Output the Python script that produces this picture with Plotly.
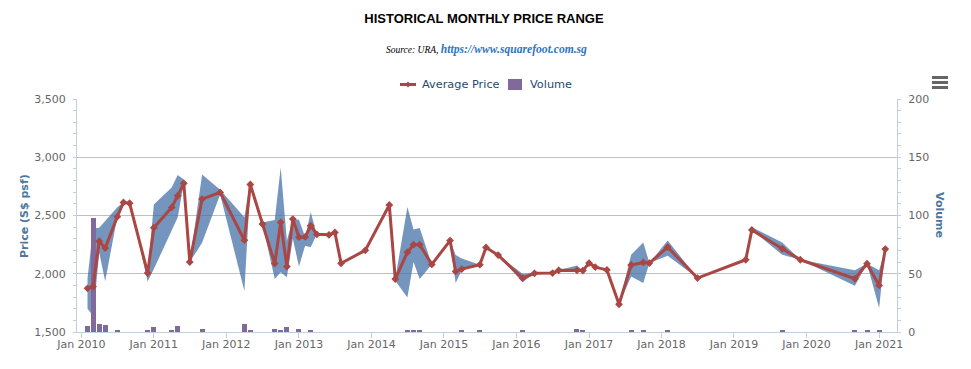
import plotly.graph_objects as go

# ---------------- data ----------------
months = ["2010-02", "2010-03", "2010-04", "2010-05", "2010-07", "2010-08", "2010-09", "2010-12",
          "2011-01", "2011-04", "2011-05", "2011-06", "2011-07", "2011-09", "2011-12",
          "2012-04", "2012-05", "2012-07", "2012-09", "2012-10", "2012-11", "2012-12",
          "2013-01", "2013-02", "2013-03", "2013-04", "2013-06", "2013-07", "2013-08", "2013-12",
          "2014-04", "2014-05", "2014-07", "2014-08", "2014-09", "2014-11",
          "2015-02", "2015-03", "2015-04", "2015-07", "2015-08", "2015-10",
          "2016-02", "2016-04", "2016-07", "2016-08", "2016-11", "2016-12",
          "2017-01", "2017-02", "2017-04", "2017-06", "2017-08", "2017-10", "2017-11",
          "2018-02", "2018-07", "2019-03", "2019-04", "2019-09", "2019-12",
          "2020-09", "2020-11", "2021-01", "2021-02"]

avg_price = [1875, 1890, 2280, 2220, 2490, 2612, 2605, 2006,
             2395, 2569, 2669, 2776, 2100, 2641, 2698,
             2288, 2766, 2426, 2088, 2441, 2062, 2469,
             2314, 2316, 2412, 2338, 2334, 2354, 2090, 2201,
             2590, 1954, 2185, 2250, 2250, 2080,
             2285, 2020, 2040, 2078, 2226, 2160,
             1962, 2004, 2006, 2029, 2029, 2027,
             2092, 2057, 2033, 1738, 2075, 2097, 2092,
             2228, 1963, 2120, 2376, 2214, 2120,
             1957, 2086, 1900, 2212]

min_price = [1700, 1640, 2180, 1935, 2490, 2612, 2605, 1934,
             2040, 2376, 2483, 2776, 2100, 2267, 2680,
             1853, 2760, 2426, 1955, 2012, 1970, 2300,
             2063, 2241, 2227, 2338, 2334, 2354, 2090, 2201,
             2590, 1940, 1797, 2100, 1954, 2080,
             2285, 1920, 2030, 2078, 2226, 2160,
             1926, 2004, 2006, 2029, 2020, 2027,
             2092, 2057, 2033, 1738, 1977, 1920, 2092,
             2155, 1963, 2120, 2376, 2163, 2120,
             1897, 2086, 1706, 2212]

max_price = [1960, 2390, 2395, 2450, 2570, 2612, 2605, 2006,
             2595, 2741, 2848, 2810, 2100, 2851, 2720,
             2486, 2790, 2440, 2461, 2913, 2284, 2470,
             2464, 2316, 2527, 2338, 2334, 2354, 2090, 2201,
             2590, 1954, 2572, 2380, 2393, 2080,
             2285, 2160, 2130, 2078, 2226, 2160,
             2000, 2004, 2006, 2029, 2070, 2027,
             2092, 2057, 2033, 1738, 2164, 2269, 2092,
             2286, 1963, 2120, 2400, 2269, 2120,
             2029, 2086, 2029, 2212]

volume = [5, 98, 7, 6, 1, None, None, 1,
          4, 1, 5, None, None, 3, None,
          7, 1, None, 3, 2, 4, None,
          3, None, 2, None, None, None, None, None,
          None, None, 1, 2, 2, None,
          None, None, 1, 2, None, None,
          1, None, None, None, 3, 1,
          None, None, None, None, 2, 1, None,
          1, None, None, None, 2, None,
          1, 1, 2, None]

tick_years = [2010, 2011, 2012, 2013, 2014, 2015, 2016, 2017, 2018, 2019, 2020, 2021]
tick_labels = ["Jan %d" % y for y in tick_years]

dates = [m + "-01" for m in months]

# ---------------- styling ----------------
W, H = 971, 369
L, R, T, B = 77, 74, 99, 37
PW, PH = W - L - R, H - T - B

def px_x(px):
    return (px - L) / PW

def px_y(py):
    return (H - B - py) / PH

BAND = "rgba(69,114,167,0.75)"
LINE = "#AA4643"
BAR = "#80699B"
AXIS = "#C0D0E0"
FONT = "DejaVu Sans, Verdana, sans-serif"
LEG = "#274b6d"

fig = go.Figure()

# range band (min -> max)
fig.add_trace(go.Scatter(x=dates, y=min_price, mode="lines", line=dict(width=0, color=BAND),
                         showlegend=False, hoverinfo="skip", yaxis="y"))
fig.add_trace(go.Scatter(x=dates, y=max_price, mode="lines", line=dict(width=0, color=BAND),
                         fill="tonexty", fillcolor=BAND, showlegend=False, hoverinfo="skip", yaxis="y"))

# volume columns
bar_width_ms = 5 / (PW / 11.305) * 365.25 * 86400000
fig.add_trace(go.Bar(x=dates, y=volume, name="Volume", marker=dict(color=BAR, line=dict(width=0)),
                     width=bar_width_ms, yaxis="y2", showlegend=False))

# average price line
fig.add_trace(go.Scatter(x=dates, y=avg_price, name="Average Price", mode="lines+markers",
                         line=dict(color=LINE, width=3),
                         marker=dict(symbol="diamond", size=6, color=LINE),
                         yaxis="y3", showlegend=False))

price_ticks = [1500, 2000, 2500, 3000, 3500]
vol_ticks = [0, 50, 100, 150, 200]

fig.update_layout(
    width=W, height=H,
    margin=dict(l=L, r=R, t=T, b=B, pad=0),
    paper_bgcolor="white", plot_bgcolor="white",
    font=dict(family=FONT, size=11, color="#666666"),
    title=dict(text="<b>HISTORICAL MONTHLY PRICE RANGE</b>",
               font=dict(family="Liberation Sans Narrow, Arial Narrow, Liberation Sans, sans-serif",
                         size=13, color="#000000"),
               x=px_x(484) * PW / W + L / W, xref="container", xanchor="center",
               y=1 - 18 / H, yref="container", yanchor="middle"),
    showlegend=False,
    bargap=0,
    xaxis=dict(type="date", range=["2009-12-10", "2021-04-01"],
               tickvals=["%d-01-01" % y for y in tick_years], ticktext=tick_labels,
               ticks="outside", ticklen=5, tickcolor=AXIS, showgrid=False, ticklabelstandoff=-3,
               showline=True, linecolor=AXIS, linewidth=1, zeroline=False,
               tickfont=dict(family=FONT, size=11, color="#666666")),
    yaxis=dict(range=[1500, 3500], tickvals=price_ticks, tickformat=",",
               showgrid=True, gridcolor="#C0C0C0", gridwidth=1, zeroline=False,
               showline=True, linecolor=AXIS, linewidth=1,
               ticks="outside", ticklen=3, tickcolor=AXIS, ticklabelstandoff=5,
               minor=dict(dtick=100, ticks="outside", ticklen=3, tickcolor=AXIS, showgrid=False),
               tickfont=dict(family=FONT, size=11, color="#666666")),
    yaxis2=dict(range=[0, 200], tickvals=vol_ticks, overlaying="y", side="right",
                showgrid=False, zeroline=False, showline=True, linecolor=AXIS, linewidth=1,
                ticks="outside", ticklen=3, tickcolor=AXIS, ticklabelstandoff=5,
                minor=dict(dtick=10, ticks="outside", ticklen=3, tickcolor=AXIS, showgrid=False),
                tickfont=dict(family=FONT, size=11, color="#666666")),
    yaxis3=dict(range=[1500, 3500], overlaying="y", visible=False, showgrid=False, zeroline=False),
)

# subtitle
fig.add_annotation(
    text=("<i><span style='font-family:Liberation Serif, Times New Roman, serif;font-size:9.5px;color:#000000'>Source: URA, </span></i>"
          "<b><i><span style='font-family:Liberation Serif, Times New Roman, serif;font-size:11.6px;color:#2f74c0'>https://www.squarefoot.com.sg</span></i></b>"),
    x=px_x(486), y=px_y(49), xref="paper", yref="paper", xanchor="center", yanchor="middle",
    showarrow=False, font=dict(family="Liberation Serif, serif", size=11, color="#000000"))

# legend (drawn manually to match the compact Highcharts legend)
LEG_Y = 84.5
fig.add_shape(type="line", xref="paper", yref="paper",
              x0=px_x(400), x1=px_x(416), y0=px_y(LEG_Y), y1=px_y(LEG_Y),
              line=dict(color=LINE, width=3))
fig.add_shape(type="path", xref="paper", yref="paper",
              path="M %f %f L %f %f L %f %f L %f %f Z" % (
                  px_x(408), px_y(LEG_Y - 3), px_x(411), px_y(LEG_Y),
                  px_x(408), px_y(LEG_Y + 3), px_x(405), px_y(LEG_Y)),
              fillcolor=LINE, line=dict(width=0))
fig.add_annotation(text="Average Price", x=px_x(420), y=px_y(LEG_Y), xref="paper", yref="paper",
                   xanchor="left", yanchor="middle", showarrow=False,
                   font=dict(family=FONT, size=11.3, color=LEG))
fig.add_shape(type="rect", xref="paper", yref="paper",
              x0=px_x(508), x1=px_x(522), y0=px_y(LEG_Y + 5.5), y1=px_y(LEG_Y - 5.5),
              fillcolor=BAR, line=dict(width=0))
fig.add_annotation(text="Volume", x=px_x(527.5), y=px_y(LEG_Y), xref="paper", yref="paper",
                   xanchor="left", yanchor="middle", showarrow=False,
                   font=dict(family=FONT, size=11.3, color=LEG))

# axis titles
fig.add_annotation(text="<b>Price (S$ psf)</b>", x=px_x(24), y=px_y(216), xref="paper", yref="paper",
                   textangle=-90, showarrow=False, xanchor="center", yanchor="middle",
                   font=dict(family=FONT, size=11, color="#4d759e"))
fig.add_annotation(text="<b>Volume</b>", x=px_x(940), y=px_y(215), xref="paper", yref="paper",
                   textangle=90, showarrow=False, xanchor="center", yanchor="middle",
                   font=dict(family=FONT, size=11, color="#4d759e"))

# export menu icon (three bars)
for top in (76, 81, 86):
    fig.add_shape(type="rect", xref="paper", yref="paper",
                  x0=px_x(932), x1=px_x(948), y0=px_y(top + 3), y1=px_y(top),
                  fillcolor="#666666", line=dict(width=0))

fig.write_html("out.html", config={"displayModeBar": False},
               post_script="document.body.style.margin='0';document.body.style.overflow='hidden';")
